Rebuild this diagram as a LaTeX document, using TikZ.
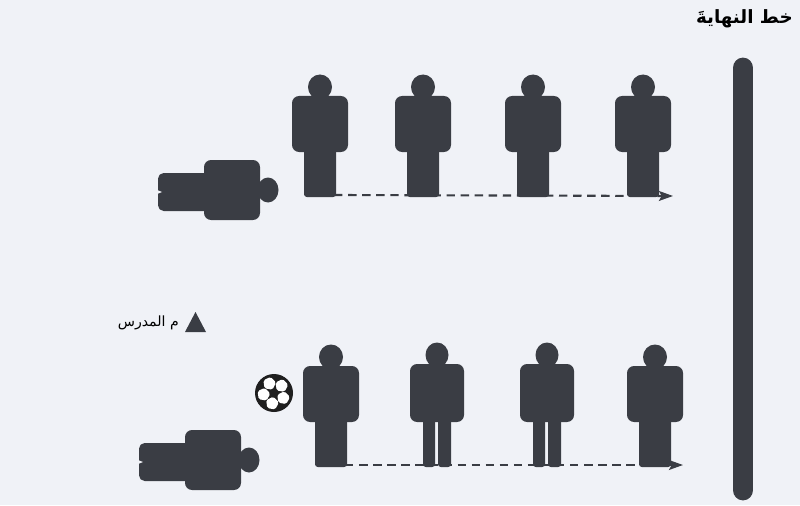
\documentclass[tikz,border=0pt]{standalone}
\usepackage{fontspec}
\newfontfamily\arabicfont[Script=Arabic]{DejaVu Sans}
\TeXXeTstate=1
\usetikzlibrary{arrows.meta}
\definecolor{paper}{HTML}{F0F2F7}
\definecolor{ink}{HTML}{3A3D44}

\tikzset{
  % upright player, origin at the middle of the feet
  standing/.pic={
    \fill[ink, rounded corners=5] (-28,-101) rectangle (28,-45);
    \fill[ink, rounded corners=2] (-16,-50) rectangle (16,0);
    \fill[ink] (0,-110) ellipse (12 and 12.5);
    \coordinate (-feet) at (14,-2);
  },
  % upright player with the two legs apart
  standingsplit/.pic={
    \fill[ink, rounded corners=5] (-27,-103) rectangle (27,-45);
    \fill[ink, rounded corners=2] (-14,-50) rectangle (-2,0);
    \fill[ink, rounded corners=2] (1,-50) rectangle (14,0);
    \fill[ink] (0,-112) ellipse (11.5 and 12.5);
    \coordinate (-feet) at (14,-2);
  },
  % player lying down, origin at the centre of the head
  lying/.pic={
    \fill[ink, rounded corners=5] (-64,-30) rectangle (-8,30);
    \fill[ink, rounded corners=4] (-110,-17) rectangle (-58,21);
    \fill[paper] (-111,0) -- (-106,2) -- (-111,4) -- cycle;
    \fill[ink] (0,0) ellipse (10.5 and 12.5);
  },
  % football: dark ball with white panels
  ball/.pic={
    \fill[black!88] (0,0) circle (19);
    \foreach \a in {100,172,244,316,28} {
      \fill[white, shift={(\a:10.5)}, rounded corners=1.2pt]
        (\a+180:6.8) -- (\a+252:6.8) -- (\a+324:6.8) -- (\a+36:6.8) -- (\a+108:6.8) -- cycle;
    }
  },
  runline/.style={ink, line width=1.5pt, dash pattern=on 6pt off 4pt,
    -{Stealth[length=10pt, width=7pt, inset=2pt]}},
  coachmark/.style={ink},
  titlelabel/.style={font=\arabicfont\bfseries\fontsize{13}{15}\selectfont, inner sep=0pt},
  legendlabel/.style={font=\arabicfont\fontsize{10}{12}\selectfont, inner sep=0pt}
}

\begin{document}
\begin{tikzpicture}[x=0.025cm, y=-0.025cm]
  \fill[paper] (0,0) rectangle (800,505);
  \useasboundingbox (0,0) rectangle (800,505);

  % finish line
  \coordinate (lineTop) at (743,68);
  \coordinate (lineBot) at (743,490);
  \draw[ink, line width=0.52cm, line cap=round] (lineTop) -- (lineBot);
  \node[titlelabel, anchor=east] (finish) at (793,19) {\beginR خط النهايةَ\endR};

  % coach legend
  \coordinate (tri) at (195.5,322);
  \fill[coachmark] (tri) ++(-10.5,10) -- ++(21,0) -- ++(-10.5,-20) -- cycle;
  \node[legendlabel, anchor=east] (coach) at (179,323) {\beginR م المدرس\endR};

  % upper group: running past the standing players
  \pic (t1) at (320,197) {standing};
  \coordinate (topEnd) at (673,196);
  \draw[runline] (t1-feet) -- (topEnd);
  \pic (t2) at (423,197) {standing};
  \pic (t3) at (533,197) {standing};
  \pic (t4) at (643,197) {standing};
  \pic (l1) at (268,190) {lying};

  % lower group: with the ball
  \pic (b1) at (331,467) {standing};
  \coordinate (botEnd) at (683,465);
  \draw[runline] (b1-feet) -- (botEnd);
  \pic (b2) at (437,467) {standingsplit};
  \pic (b3) at (547,467) {standingsplit};
  \pic (b4) at (655,467) {standing};
  \pic (l2) at (249,460) {lying};
  \pic (football) at (274,393) {ball};
\end{tikzpicture}
\end{document}
